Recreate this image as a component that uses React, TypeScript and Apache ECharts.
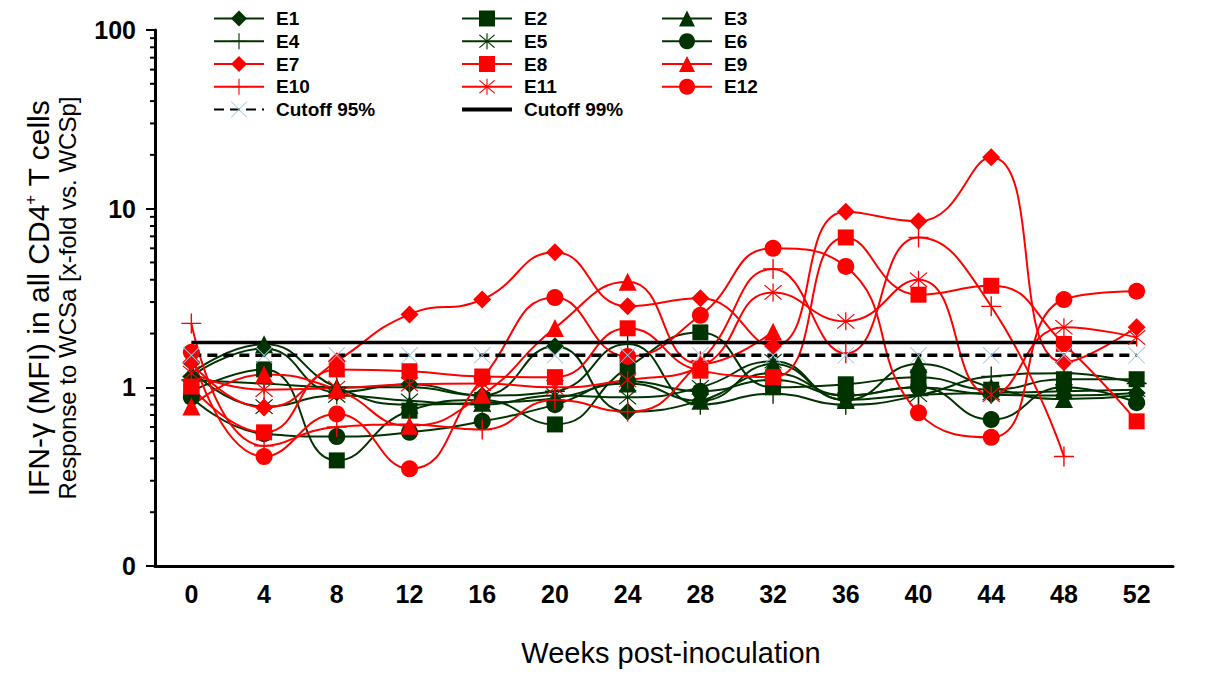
import React, { useEffect, useRef } from "react";
import * as echarts from "echarts";

// Weeks after inoculation (category axis)
const weeks = ["0", "4", "8", "12", "16", "20", "24", "28", "32", "36", "40", "44", "48", "52"];

// x-fold response per animal
const E1 = [1.15, 1.65, 0.94, 1.04, 0.9, 1.7, 0.73, 0.84, 1.2, 0.9, 1.0, 0.91, 0.9, 0.93];
const E2 = [0.95, 1.26, 0.39, 0.74, 0.85, 0.62, 1.29, 2.03, 1.0, 1.04, 1.14, 0.97, 1.11, 1.11];
const E3 = [1.2, 1.74, 1.0, 0.8, 0.82, 0.87, 1.05, 0.84, 1.35, 0.85, 1.35, 1.0, 0.86, 0.9];
const E4 = [1.1, 1.05, 1.0, 1.0, 0.9, 0.95, 1.75, 0.8, 0.92, 0.8, 0.9, 1.15, 1.2, 1.05];
const E5 = [1.25, 0.78, 0.9, 0.84, 0.8, 0.9, 0.88, 1.0, 1.4, 0.85, 0.91, 0.93, 0.95, 0.97];
const E6 = [0.88, 0.55, 0.53, 0.56, 0.645, 0.8, 1.08, 0.95, 1.1, 0.9, 1.0, 0.66, 1.0, 0.82];
const E7 = [1.38, 0.77, 1.4, 2.56, 3.1, 5.7, 2.84, 3.15, 1.7, 9.6, 8.5, 19.4, 1.38, 2.17];
const E8 = [1.01, 0.56, 1.26, 1.23, 1.15, 1.14, 2.14, 1.24, 1.14, 6.9, 3.3, 3.7, 1.75, 0.645];
const E9 = [0.78, 1.18, 0.97, 0.61, 0.91, 2.15, 3.9, 1.35, 2.05, null, null, null, null, null];
const E10 = [2.28, 0.47, 0.6, 0.62, 0.58, 0.85, 0.73, 1.4, 4.6, 1.55, 6.9, 2.84, 0.41, null];
const E11 = [1.2, 0.97, 0.99, 1.04, 1.05, 1.0, 1.1, 1.3, 3.4, 2.34, 4.0, 0.91, 2.17, 1.9];
const E12 = [1.57, 0.41, 0.71, 0.35, 1.12, 3.18, 1.49, 2.53, 6.0, 4.75, 0.72, 0.525, 3.1, 3.45];

// Cutoff levels
const cutoff95 = weeks.map(() => 1.51);
const cutoff99 = weeks.map(() => 1.78);

// Log-axis minor tick positions (2..9 of each decade)
const minorTickValues = [0.2, 0.3, 0.4, 0.5, 0.6, 0.7, 0.8, 0.9, 2, 3, 4, 5, 6, 7, 8, 9, 20, 30, 40, 50, 60, 70, 80, 90];

const GREEN = "#003300";
const RED = "#ff0000";
const LIGHT_BLUE = "#9dc3e6";
const FONT = "'Liberation Sans', Arial, sans-serif";

// Thin filled bar between two points, used to build stroke-like marker glyphs
function bar(x1: number, y1: number, x2: number, y2: number, w: number): string {
  const dx = x2 - x1;
  const dy = y2 - y1;
  const len = Math.sqrt(dx * dx + dy * dy);
  const nx = (-dy / len) * (w / 2);
  const ny = (dx / len) * (w / 2);
  const f = (n: number) => n.toFixed(3);
  return `M${f(x1 + nx)},${f(y1 + ny)}L${f(x2 + nx)},${f(y2 + ny)}L${f(x2 - nx)},${f(y2 - ny)}L${f(x1 - nx)},${f(y1 - ny)}Z`;
}

const PLUS = "path://" + bar(0, -1, 0, 1, 0.14) + bar(-1, 0, 1, 0, 0.14);
const STAR = "path://" + bar(0, -1, 0, 1, 0.12) + bar(-0.8, -0.8, 0.8, 0.8, 0.12) + bar(-0.8, 0.8, 0.8, -0.8, 0.12);
const CROSS = "path://" + bar(-1, -1, 1, 1, 0.11) + bar(-1, 1, 1, -1, 0.11);
const THICK_LINE = "path://M0,0H50V4H0Z";

function lineSeries(name: string, data: (number | null)[], color: string, symbol: string, size: number) {
  return {
    name,
    type: "line",
    data,
    smooth: 0.5,
    symbol,
    symbolSize: size,
    showAllSymbol: true,
    connectNulls: false,
    lineStyle: { color, width: 2 },
    itemStyle: { color, borderWidth: 0 },
    emphasis: { disabled: true },
  };
}

function legendCol(left: number, names: any[]) {
  return {
    orient: "vertical",
    left,
    top: 9,
    padding: 0,
    itemWidth: 50,
    itemHeight: 20,
    itemGap: 3.75,
    selectedMode: false,
    data: names,
    textStyle: {
      fontFamily: FONT,
      fontWeight: "bold",
      fontSize: 19,
      lineHeight: 19,
      color: "#000",
      padding: [0, 0, 0, 7],
    },
  };
}

export default function App() {
  const ref = useRef<HTMLDivElement>(null);

  useEffect(() => {
    document.body.style.margin = "0";
    if (!ref.current) return;
    const chart = echarts.init(ref.current, null, { renderer: "svg" });

    const option = {
      animation: false,
      backgroundColor: "#fff",
      grid: { left: 155, right: 37, top: 30, bottom: 120 },
      legend: [
        legendCol(213, ["E1", "E4", "E7", "E10", "Cutoff 95%"]),
        legendCol(461, ["E2", "E5", "E8", "E11", { name: "Cutoff 99%", icon: THICK_LINE }]),
        legendCol(661, ["E3", "E6", "E9", "E12"]),
      ],
      xAxis: {
        type: "category",
        data: weeks,
        boundaryGap: true,
        axisLine: { lineStyle: { color: "#000", width: 3 } },
        axisTick: { length: 6, lineStyle: { color: "#000", width: 2 } },
        axisLabel: { fontFamily: FONT, fontWeight: "bold", fontSize: 25, color: "#000", margin: 15 },
        splitLine: { show: false },
      },
      yAxis: {
        type: "log",
        logBase: 10,
        min: 0.1,
        max: 100,
        axisLine: { show: true, lineStyle: { color: "#000", width: 3 } },
        axisTick: { show: true, length: 9, lineStyle: { color: "#000", width: 2 } },
        axisLabel: {
          fontFamily: FONT,
          fontWeight: "bold",
          fontSize: 25,
          color: "#000",
          margin: 19,
          formatter: (v: number) => (v < 0.5 ? "0" : String(Math.round(v))),
        },
        splitLine: { show: false },
      },
      graphic: [
        {
          type: "text",
          x: 38,
          y: 298,
          rotation: Math.PI / 2,
          style: {
            text: "{a|IFN-γ (MFI) in all CD4}{s|+}{a| T cells}",
            rich: {
              a: { fontFamily: FONT, fontSize: 30, fill: "#000" },
              s: { fontFamily: FONT, fontSize: 17, fill: "#000", padding: [0, 0, 15, 0] },
            },
            align: "center",
            verticalAlign: "middle",
          },
        },
        {
          type: "text",
          x: 67,
          y: 298,
          rotation: Math.PI / 2,
          style: {
            text: "Response to WCSa [x-fold vs. WCSp]",
            fontFamily: FONT,
            fontSize: 24,
            fill: "#000",
            align: "center",
            verticalAlign: "middle",
          },
        },
        {
          type: "text",
          x: 671,
          y: 653,
          style: {
            text: "Weeks post-inoculation",
            fontFamily: FONT,
            fontSize: 29,
            fill: "#000",
            align: "center",
            verticalAlign: "middle",
          },
        },
      ],
      series: [
        lineSeries("E1", E1, GREEN, "diamond", 18),
        lineSeries("E2", E2, GREEN, "rect", 16),
        lineSeries("E3", E3, GREEN, "triangle", 18),
        lineSeries("E4", E4, GREEN, PLUS, 20),
        lineSeries("E5", E5, GREEN, STAR, 18),
        lineSeries("E6", E6, GREEN, "circle", 17),
        lineSeries("E7", E7, RED, "diamond", 18),
        lineSeries("E8", E8, RED, "rect", 16),
        lineSeries("E9", E9, RED, "triangle", 18),
        lineSeries("E10", E10, RED, PLUS, 20),
        lineSeries("E11", E11, RED, STAR, 18),
        lineSeries("E12", E12, RED, "circle", 17),
        {
          name: "Cutoff 95%",
          type: "line",
          data: cutoff95,
          symbol: CROSS,
          symbolSize: 17,
          showAllSymbol: true,
          lineStyle: { color: "#000", width: 3.5, type: [10, 6] },
          itemStyle: { color: LIGHT_BLUE, borderWidth: 0 },
          emphasis: { disabled: true },
        },
        {
          name: "Cutoff 99%",
          type: "line",
          data: cutoff99,
          symbol: "none",
          lineStyle: { color: "#000", width: 3.5 },
          itemStyle: { color: "#000" },
          emphasis: { disabled: true },
        },
        {
          // log-axis minor ticks at 2..9 of each decade
          name: "minorTicks",
          type: "custom",
          silent: true,
          clip: false,
          data: minorTickValues.map((v) => [0, v]),
          encode: { x: 0, y: 1 },
          renderItem: (params: any, api: any) => {
            const pt = api.coord([0, api.value(1)]);
            const bw = api.size([1, 0])[0];
            const x = pt[0] - bw / 2;
            return {
              type: "line",
              shape: { x1: x - 5, y1: pt[1], x2: x, y2: pt[1] },
              style: { stroke: "#000", lineWidth: 2 },
            };
          },
        },
      ],
    };

    chart.setOption(option as any);
    return () => chart.dispose();
  }, []);

  return <div ref={ref} style={{ width: 1210, height: 686 }} />;
}
